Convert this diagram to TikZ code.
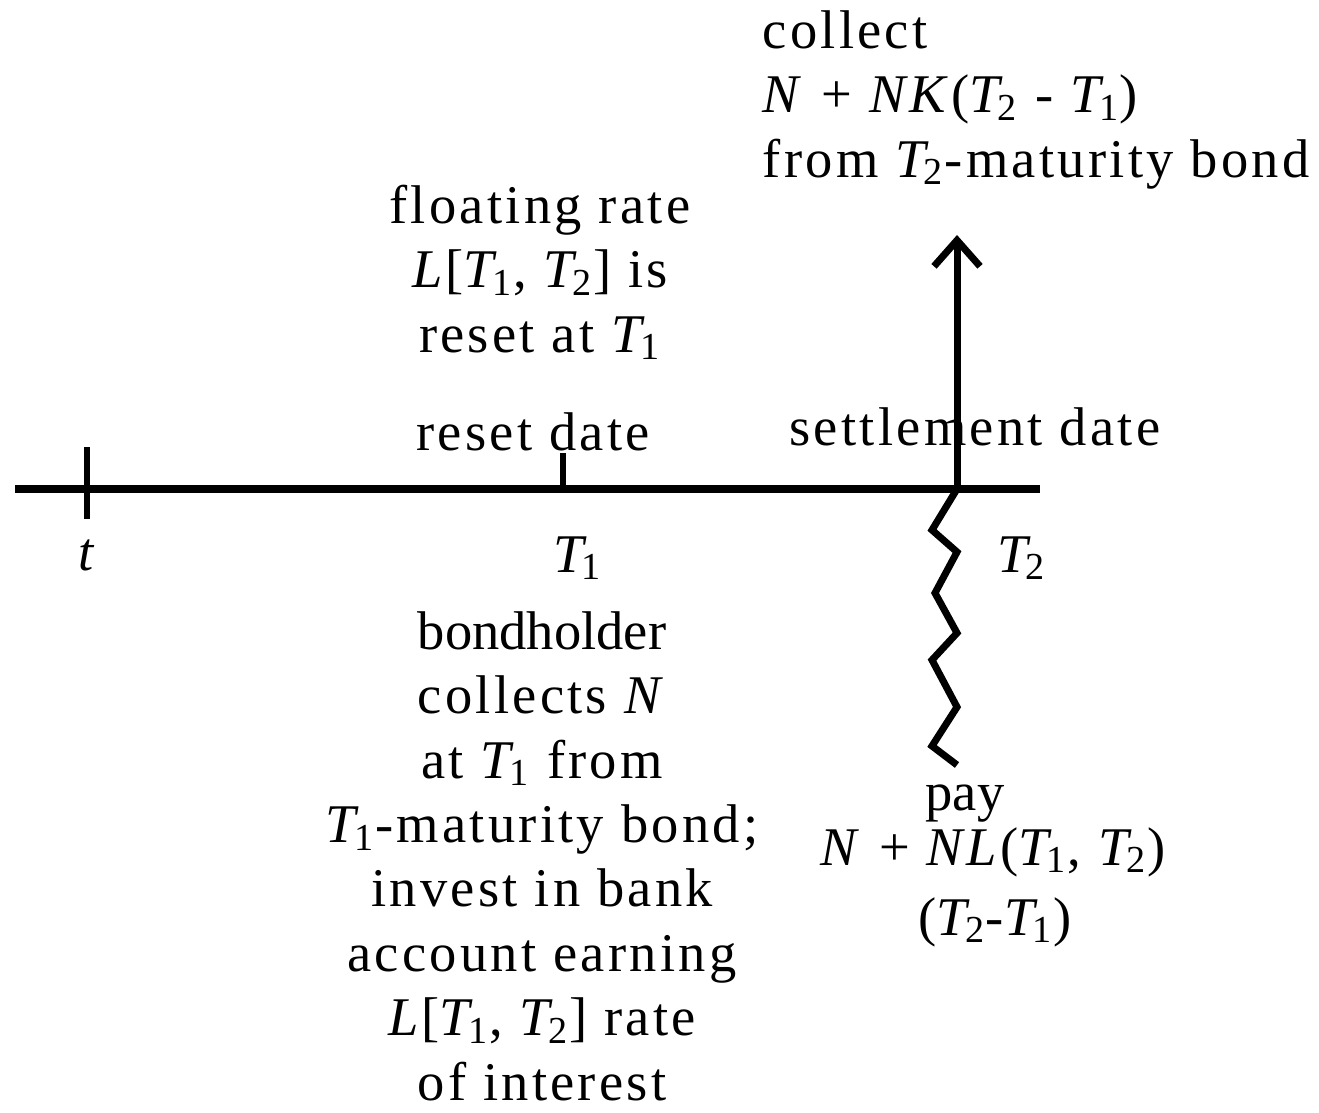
\documentclass[tikz,border=0pt]{standalone}
\usepackage{fontspec}
\setmainfont{Liberation Serif}[LetterSpace=6]
\newfontfamily\tightrm{Liberation Serif}
\usetikzlibrary{arrows.meta}
\newcommand{\Tsub}[1]{{\tightrm\itshape T}\kern-0.5pt\textsubscript{#1}}

\begin{document}
\begin{tikzpicture}[x=0.01cm,y=-0.01cm,
  lbl/.style={inner sep=0pt,anchor=base,font=\fontsize{15.5}{18.3}\selectfont,align=center},
  axis/.style={line width=2.4pt},
  tick/.style={line width=1.8pt},
  flow/.style={line width=2pt}]
\useasboundingbox (0,0) rectangle (1319,1112);
% time line
\coordinate (start) at (15,489);
\coordinate (end) at (1040,489);
\coordinate (t) at (87,489);
\coordinate (T1) at (563,489);
\coordinate (T2) at (957,489);
\coordinate (top) at (957,235);
\draw[axis] (start) -- (end);
\draw[tick] (t) ++(0,-42) -- ++(0,72);
\draw[tick] (T1) -- ++(0,-36);
% cash flows at T2
\draw[flow,-{Straight Barb[length=2.6mm,width=4.6mm]}] (T2) -- (top);
\draw[flow,line join=miter] (T2) -- ++(-25,41) -- ++(25,22) -- ++(-22,41) -- ++(22,40)
  -- ++(-25,27) -- ++(25,47) -- ++(-25,39) -- ++(25,19);
% labels (multi-line nodes sit on their last line)
\node[lbl] (tlab) at (88,570) {\textit{t}};
\node[lbl] (T1lab) at (578,572) {\Tsub{1}};
\node[lbl] (T2lab) at (1022,572) {\Tsub{2}};
\node[lbl] (resetdate) at (533,450) {reset date};
\node[lbl] (settledate) at (975,445) {settlement date};
\node[lbl] (floating) at (540,352) {floating rate\\\textit{L}[\Tsub{1}, \Tsub{2}] is\\reset at \Tsub{1}};
\node[lbl,align=left,anchor=base west] (collect) at (762,177) {collect\\
  \textit{N} + \textit{NK}(\Tsub{2} - \Tsub{1})\\from \Tsub{2}-maturity bond};
\node[lbl] (bondholder) at (542,1100) {{\tightrm bondholder}\\collects \textit{N}\\at \Tsub{1} from\\
  \Tsub{1}-maturity bond;\\invest in bank\\account earning\\\textit{L}[\Tsub{1}, \Tsub{2}] rate\\of interest};
\node[lbl,font=\fontsize{15.5}{18.3}\selectfont\tightrm] (pay) at (965,810) {pay};
\node[lbl] (payamt) at (993,865) {\textit{N} + \textit{NL}(\Tsub{1}, \Tsub{2})};
\node[lbl] (payper) at (995,935) {(\Tsub{2}-\Tsub{1})};
\end{tikzpicture}
\end{document}
